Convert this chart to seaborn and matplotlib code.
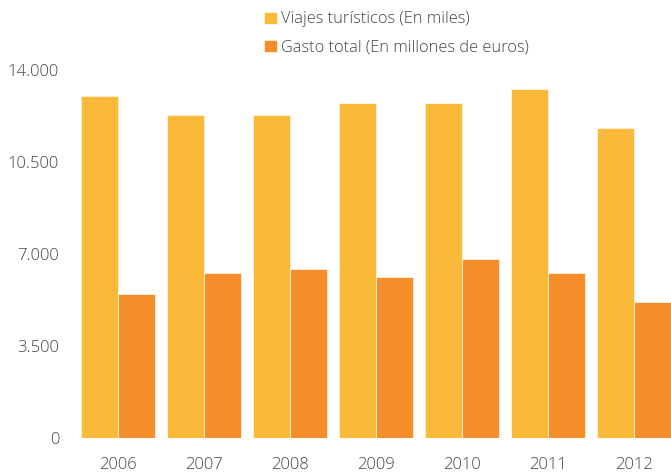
import pandas as pd
import matplotlib
matplotlib.use("Agg")
import matplotlib.pyplot as plt
import seaborn as sns
from matplotlib.ticker import FuncFormatter, FixedLocator

# datos
years = ["2006", "2007", "2008", "2009", "2010", "2011", "2012"]
viajes = [13000, 12280, 12280, 12730, 12730, 13270, 11800]
gasto = [5480, 6290, 6440, 6140, 6810, 6290, 5160]
series = ["Viajes turísticos (En miles)", "Gasto total (En millones de euros)"]
colors = ["#FBB93A", "#F58D29"]
yticks = [0, 3500, 7000, 10500, 14000]

df = pd.DataFrame({
    "year": years * 2,
    "value": viajes + gasto,
    "serie": [series[0]] * len(years) + [series[1]] * len(years),
})

sns.set_style("white")
plt.rcParams['font.family'] = ['Open Sans', 'DejaVu Sans']
plt.rcParams['font.weight'] = 'light'

fig = plt.figure(figsize=(6.71, 4.76), dpi=100)
ax = fig.add_axes([75 / 671, 38 / 476, 1 - 75 / 671, 368 / 476])

sns.barplot(data=df, x="year", y="value", hue="serie", palette=colors,
            saturation=1, width=0.87, gap=0, edgecolor="#fff3dc", linewidth=0.6,
            ax=ax, legend=True)

ax.set_xlim(-0.5, (671 - 118) / 86)
ax.set_ylim(0, 14000)
ax.set_yticks(yticks)
ax.yaxis.set_major_formatter(FuncFormatter(lambda v, p: f"{v:,.0f}".replace(",", ".")))
ax.set_xlabel("")
ax.set_ylabel("")
for s in ax.spines.values():
    s.set_visible(False)

ax.tick_params(axis="y", length=0, pad=11.5, labelsize=12, labelcolor="#444444")
ax.tick_params(axis="x", length=0, pad=14, labelsize=12, labelcolor="#444444")
ax.xaxis.set_minor_locator(FixedLocator([2.5, 3.5, 4.5, 5.5]))
ax.tick_params(axis="x", which="minor", length=4, width=0.8, color="#cccccc")

leg = ax.legend(loc="upper left", bbox_to_anchor=(253 / 671, 1.0), bbox_transform=fig.transFigure,
                frameon=False, fontsize=11.8, handlelength=0.75, handleheight=0.75,
                handletextpad=0.25, labelspacing=0.72, borderaxespad=0.3)
for t in leg.get_texts():
    t.set_color("#444444")

plt.savefig("out.png", dpi=100)
plt.close()
